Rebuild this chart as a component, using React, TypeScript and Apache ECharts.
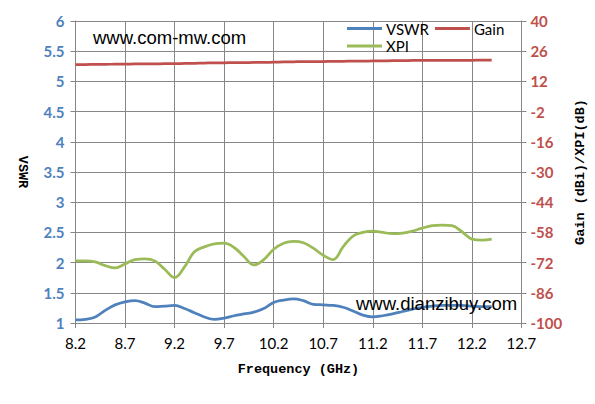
import React, { useEffect, useRef } from "react";
import * as echarts from "echarts";

const freqs = [
  8.2, 8.3, 8.4, 8.5, 8.6, 8.7, 8.8, 8.9, 9.0, 9.1, 9.2, 9.3, 9.4, 9.5, 9.6, 9.7, 9.8, 9.9, 10.0, 10.1, 10.2,
  10.3, 10.4, 10.5, 10.6, 10.7, 10.8, 10.9, 11.0, 11.1, 11.2, 11.3, 11.4, 11.5, 11.6, 11.7, 11.8, 11.9, 12.0,
  12.1, 12.2, 12.3, 12.4,
];

const vswr = [
  1.05, 1.06, 1.1, 1.21, 1.3, 1.35, 1.37, 1.33, 1.27, 1.28, 1.29, 1.24, 1.17, 1.1, 1.06, 1.08, 1.12, 1.15, 1.18,
  1.24, 1.34, 1.38, 1.4, 1.37, 1.31, 1.3, 1.29, 1.26, 1.2, 1.13, 1.1, 1.12, 1.15, 1.19, 1.23, 1.26, 1.28, 1.29,
  1.29, 1.29, 1.28, 1.27, 1.27,
];

const gain = [
  19.8, 19.8, 19.9, 19.9, 20.0, 20.0, 20.1, 20.1, 20.1, 20.2, 20.2, 20.3, 20.4, 20.5, 20.6, 20.6, 20.7, 20.7, 20.8,
  20.8, 20.9, 21.0, 21.1, 21.2, 21.2, 21.2, 21.3, 21.3, 21.4, 21.4, 21.5, 21.5, 21.6, 21.6, 21.7, 21.7, 21.8, 21.8,
  21.8, 21.8, 21.8, 21.9, 21.9,
];

const xpi = [
  -71.2, -71.2, -71.7, -73.4, -74.5, -72.6, -70.6, -70.3, -71.2, -75.1, -79.0, -74.0, -67.0, -64.7, -63.3, -63.0,
  -65.0, -69.2, -73.1, -70.6, -65.8, -63.0, -62.2, -62.8, -65.3, -68.6, -70.6, -64.7, -59.7, -58.0, -57.4, -58.0,
  -58.6, -58.3, -57.4, -56.0, -54.9, -54.6, -54.9, -57.7, -61.1, -61.6, -61.1,
];

const seriesNames = ["VSWR", "Gain", "XPI"];
const watermarks = ["www.com-mw.com", "www.dianzibuy.com"];

const BLUE = "#4F81BD";
const RED = "#C0504D";
const GREEN = "#9BBB59";
const GRID = "#868686";
const TITLE_FONT = { fontFamily: "Liberation Mono", fontWeight: "bold", fontSize: 13.5, color: "#000" };

export default function App() {
  const ref = useRef<HTMLDivElement>(null);

  useEffect(() => {
    if (!ref.current) return;
    const chart = echarts.init(ref.current, null, { renderer: "svg" });
    const pair = (ys: number[]) => freqs.map((f, i) => [f, ys[i]]);
    const legendText = { fontFamily: "Lato", fontSize: 15, color: "#000", padding: [0, 0, 0, -1] };
    chart.setOption({
      animation: false,
      backgroundColor: "#ffffff",
      grid: { left: 75.5, right: 73, top: 21, bottom: 81, containLabel: false },
      legend: [
        {
          data: [seriesNames[0], seriesNames[1]],
          left: 347,
          top: 21,
          padding: 0,
          icon: "rect",
          itemWidth: 35,
          itemHeight: 3,
          itemGap: 6,
          textStyle: legendText,
        },
        {
          data: [seriesNames[2]],
          left: 347,
          top: 38.5,
          padding: 0,
          icon: "rect",
          itemWidth: 35,
          itemHeight: 3,
          textStyle: legendText,
        },
      ],
      xAxis: {
        type: "value",
        min: 8.2,
        max: 12.7,
        interval: 0.5,
        name: "Frequency (GHz)",
        nameLocation: "middle",
        nameGap: 39,
        nameTextStyle: TITLE_FONT,
        axisLine: { onZero: false, lineStyle: { color: GRID, width: 1 } },
        axisTick: { show: true, length: 5, lineStyle: { color: GRID } },
        splitLine: { show: true, lineStyle: { color: GRID, width: 1 } },
        axisLabel: {
          margin: 12,
          fontFamily: "Lato",
          fontSize: 15,
          color: "#000",
          formatter: (v: number) => v.toFixed(1),
        },
      },
      yAxis: [
        {
          type: "value",
          min: 1,
          max: 6,
          interval: 0.5,
          position: "left",
          name: "VSWR",
          nameLocation: "middle",
          nameRotate: -90,
          nameGap: 46,
          nameTextStyle: TITLE_FONT,
          axisLine: { show: true, onZero: false, lineStyle: { color: GRID, width: 1 } },
          axisTick: { show: true, length: 5, lineStyle: { color: GRID } },
          splitLine: { show: true, lineStyle: { color: GRID, width: 1 } },
          axisLabel: {
            margin: 11,
            fontFamily: "Lato",
            fontWeight: "bold",
            fontSize: 15,
            color: BLUE,
            formatter: (v: number) => String(Math.round(v * 10) / 10),
          },
        },
        {
          type: "value",
          min: -100,
          max: 40,
          interval: 14,
          position: "right",
          name: "Gain (dBi)/XPI(dB)",
          nameLocation: "middle",
          nameRotate: 90,
          nameGap: 47,
          nameTextStyle: TITLE_FONT,
          axisLine: { show: true, onZero: false, lineStyle: { color: GRID, width: 1 } },
          axisTick: { show: true, length: 5, lineStyle: { color: GRID } },
          splitLine: { show: false },
          axisLabel: {
            margin: 9,
            fontFamily: "Lato",
            fontWeight: "bold",
            fontSize: 15,
            color: RED,
          },
        },
      ],
      graphic: [
        {
          type: "text",
          left: 93,
          top: 28,
          style: { text: watermarks[0], fontFamily: "Liberation Sans", fontSize: 18.5, fill: "#000" },
          z: 100,
        },
        {
          type: "text",
          left: 356,
          top: 294,
          style: {
            text: watermarks[1],
            fontFamily: "Liberation Sans",
            fontSize: 18.5,
            fill: "#000",
            shadowColor: "rgba(0,0,0,0.35)",
            shadowBlur: 2,
            shadowOffsetX: 1,
            shadowOffsetY: 1,
          },
          z: 100,
        },
      ],
      series: [
        {
          name: seriesNames[0],
          type: "line",
          yAxisIndex: 0,
          data: pair(vswr),
          smooth: 0.4,
          symbol: "none",
          lineStyle: { color: BLUE, width: 2.75 },
          itemStyle: { color: BLUE },
        },
        {
          name: seriesNames[1],
          type: "line",
          yAxisIndex: 1,
          data: pair(gain),
          smooth: 0.4,
          symbol: "none",
          lineStyle: { color: RED, width: 2.75 },
          itemStyle: { color: RED },
        },
        {
          name: seriesNames[2],
          type: "line",
          yAxisIndex: 1,
          data: pair(xpi),
          smooth: 0.4,
          symbol: "none",
          lineStyle: { color: GREEN, width: 2.75 },
          itemStyle: { color: GREEN },
        },
      ],
    });
    return () => chart.dispose();
  }, []);

  return <div ref={ref} style={{ width: 595, height: 404, position: "absolute", left: 0, top: 0 }} />;
}
